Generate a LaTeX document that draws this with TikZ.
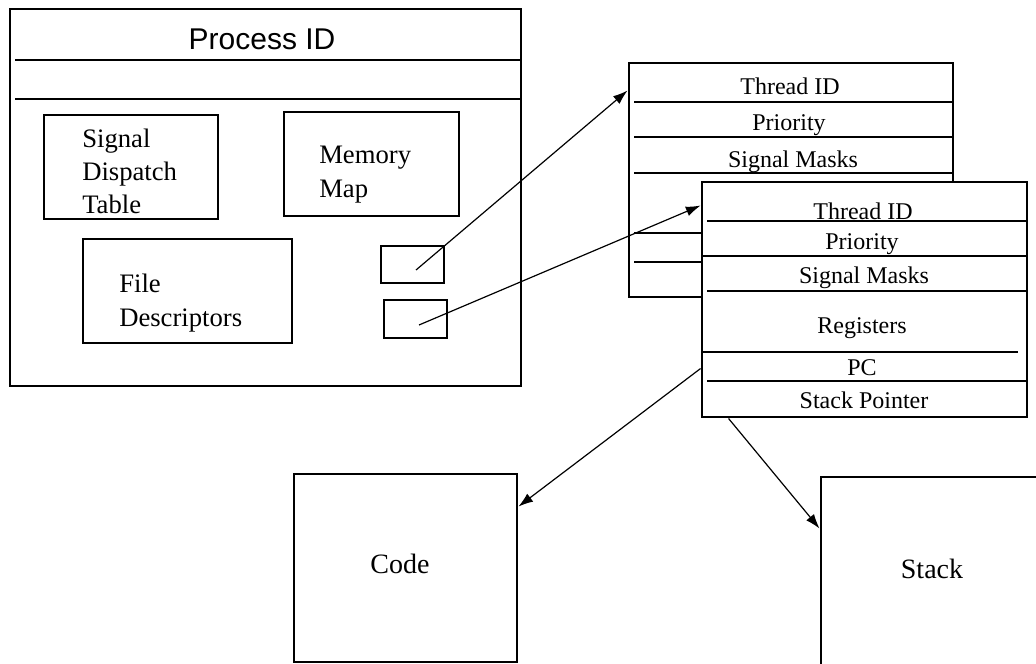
\documentclass[tikz,border=0pt]{standalone}
\usepackage{fontspec}
\setmainfont{Liberation Serif}
\newfontfamily\procfont{Liberation Sans}
\usetikzlibrary{arrows.meta}
\begin{document}
\begin{tikzpicture}[x=0.75pt,y=-0.75pt,
  box/.style={draw, line width=2.2pt, inner sep=0pt, fill=white},
  rowline/.style={line width=2.2pt},
  txt/.style={inner sep=0pt, font=\fontsize{20}{24}\selectfont, anchor=base west},
  ttxt/.style={inner sep=0pt, font=\fontsize{18}{22}\selectfont, anchor=base},
  big/.style={inner sep=0pt, font=\fontsize{21}{25}\selectfont, anchor=base},
  link/.style={line width=0.9pt, -{Latex[length=11pt,width=7.5pt]}}]

\useasboundingbox (0,0) rectangle (1036,664);
\clip (0,0) rectangle (1036,664);
\fill[white] (0,0) rectangle (1036,664);

% process box
\node[box, minimum width=383.25pt, minimum height=282.75pt] (proc) at (265.5,197.5) {};
\draw[rowline] (15,60) -- (521,60);
\draw[rowline] (15,99) -- (521,99);
\node[inner sep=0pt, anchor=base, font=\procfont\fontsize{22.5}{26}\selectfont] (pid) at (262,49) {Process ID};

\node[box, minimum width=130.5pt, minimum height=78pt] (sdt) at (131,167) {};
\node[txt] (sdt1) at (82,147) {Signal};
\node[txt] (sdt2) at (82,180) {Dispatch};
\node[txt] (sdt3) at (82,213) {Table};

\node[box, minimum width=131.25pt, minimum height=78pt] (mm) at (371.5,164) {};
\node[txt] (mm1) at (319,163) {Memory};
\node[txt] (mm2) at (319,197) {Map};

\node[box, minimum width=156.75pt, minimum height=78pt] (fd) at (187.5,291) {};
\node[txt] (fd1) at (119,292) {File};
\node[txt] (fd2) at (119,326) {Descriptors};

\node[box, minimum width=47.25pt, minimum height=27.75pt] (sb1) at (412.5,264.5) {};
\node[box, minimum width=47.25pt, minimum height=28.5pt] (sb2) at (415.5,319) {};

% thread 1
\node[box, minimum width=243pt, minimum height=175.5pt] (thr1) at (791,180) {};
\foreach \yy in {102,137,173,233,262} \draw[rowline] (634,\yy) -- (953,\yy);
\node[ttxt] (t1a) at (790,94) {Thread ID};
\node[ttxt] (t1b) at (789,130) {Priority};
\node[ttxt] (t1c) at (793,167) {Signal Masks};

% thread 2
\node[box, minimum width=243.75pt, minimum height=176.25pt] (thr2) at (864.5,299.5) {};
\draw[rowline] (707,221) -- (1027,221);
\draw[rowline] (702,256) -- (1027,256);
\draw[rowline] (707,291) -- (1027,291);
\draw[rowline] (702,352) -- (1018,352);
\draw[rowline] (707,381) -- (1027,381);
\node[ttxt] (t2a) at (863,219) {Thread ID};
\node[ttxt] (t2b) at (862,249) {Priority};
\node[ttxt] (t2c) at (864,283) {Signal Masks};
\node[ttxt] (t2d) at (862,333) {Registers};
\node[ttxt] (t2e) at (862,375) {PC};
\node[ttxt] (t2f) at (864,408) {Stack Pointer};

% code and stack
\node[box, minimum width=167.25pt, minimum height=141pt] (code) at (405.5,568) {};
\node[big] (codet) at (400,573) {Code};
\node[box, minimum width=179.25pt, minimum height=167.25pt] (stack) at (940.5,588.5) {};
\node[big] (stackt) at (932,578) {Stack};

% connectors
\coordinate (s1in) at (416,270);
\coordinate (s2in) at (419,325);
\draw[link] (s1in) -- ([yshift=-21.75pt]thr1.north west);
\draw[link] (s2in) -- ([yshift=-18.75pt]thr2.north west);
\draw[link] ([yshift=-141pt]thr2.north west) -- ([yshift=-25.5pt]code.north east);
\draw[link] ([xshift=21pt]thr2.south west) -- ([yshift=-39.75pt]stack.north west);
\end{tikzpicture}
\end{document}
